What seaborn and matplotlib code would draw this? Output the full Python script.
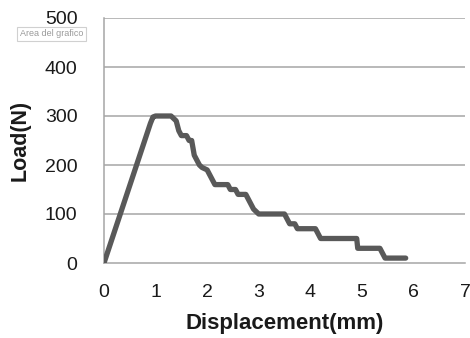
import matplotlib
matplotlib.use("Agg")
import matplotlib.pyplot as plt
import seaborn as sns
import pandas as pd

displacement = [0.0, 0.9, 0.95, 1.0, 1.3, 1.35, 1.4, 1.45, 1.5, 1.6, 1.65, 1.7, 1.75, 1.8,
                1.85, 1.9, 2.0, 2.05, 2.1, 2.15, 2.4, 2.45, 2.55, 2.6, 2.75, 2.8, 2.85,
                2.9, 3.0, 3.5, 3.55, 3.6, 3.7, 3.75, 4.1, 4.15, 4.2, 4.9, 4.92, 5.35,
                5.4, 5.45, 5.85]
load = [0, 285, 298, 300, 300, 295, 290, 270, 260, 260, 250, 250, 220, 210,
        200, 195, 190, 180, 170, 160, 160, 150, 150, 140, 140, 130, 120,
        110, 100, 100, 90, 80, 80, 70, 70, 60, 50, 50, 30, 30,
        20, 10, 10]
x_ticks = [0, 1, 2, 3, 4, 5, 6, 7]
y_ticks = [0, 100, 200, 300, 400, 500]

df = pd.DataFrame({"Displacement": displacement, "Load": load})

sns.set_style("white")
plt.rcParams["font.family"] = ["Liberation Sans", "DejaVu Sans"]

fig = plt.figure(figsize=(4.7, 3.38), dpi=100)
ax = fig.add_axes([104/470, 1-263/338, (465-104)/470, (263-18)/338])

grid_c = "#a6a6a6"
for yv in y_ticks[1:]:
    ax.axhline(yv, color=grid_c, lw=1.1, zorder=0)

sns.lineplot(data=df, x="Displacement", y="Load", ax=ax, color="#595959",
             linewidth=3.8, estimator=None, sort=False, zorder=3)

ax.set_xlim(0, 7)
ax.set_ylim(0, 500)
ax.set_xticks(x_ticks)
ax.set_yticks(y_ticks)
ax.set_xticklabels([str(v) for v in x_ticks])
ax.set_yticklabels([str(v) for v in y_ticks])

for s in ["top", "right"]:
    ax.spines[s].set_visible(False)
for s in ["left", "bottom"]:
    ax.spines[s].set_color(grid_c)
    ax.spines[s].set_linewidth(1.1)

ax.tick_params(axis="both", which="major", direction="out", length=5,
               width=1.1, color=grid_c, labelsize=14, labelcolor="#1a1a1a")
ax.tick_params(axis="y", length=7, pad=12)
ax.tick_params(axis="x", pad=10)

ax.set_xlabel("Displacement(mm)", fontsize=16, fontweight="bold", color="#1a1a1a", labelpad=9)
ax.set_ylabel("Load(N)", fontsize=15.5, fontweight="bold", color="#1a1a1a", labelpad=10)

fig.text(20/470, 1-34/338, "Area del grafico", fontsize=6.5, color="#9a9a9a",
         va="center", ha="left",
         bbox=dict(boxstyle="square,pad=0.3", fc="white", ec="#d0d0d0", lw=0.8))

fig.savefig("out.png", dpi=100)
